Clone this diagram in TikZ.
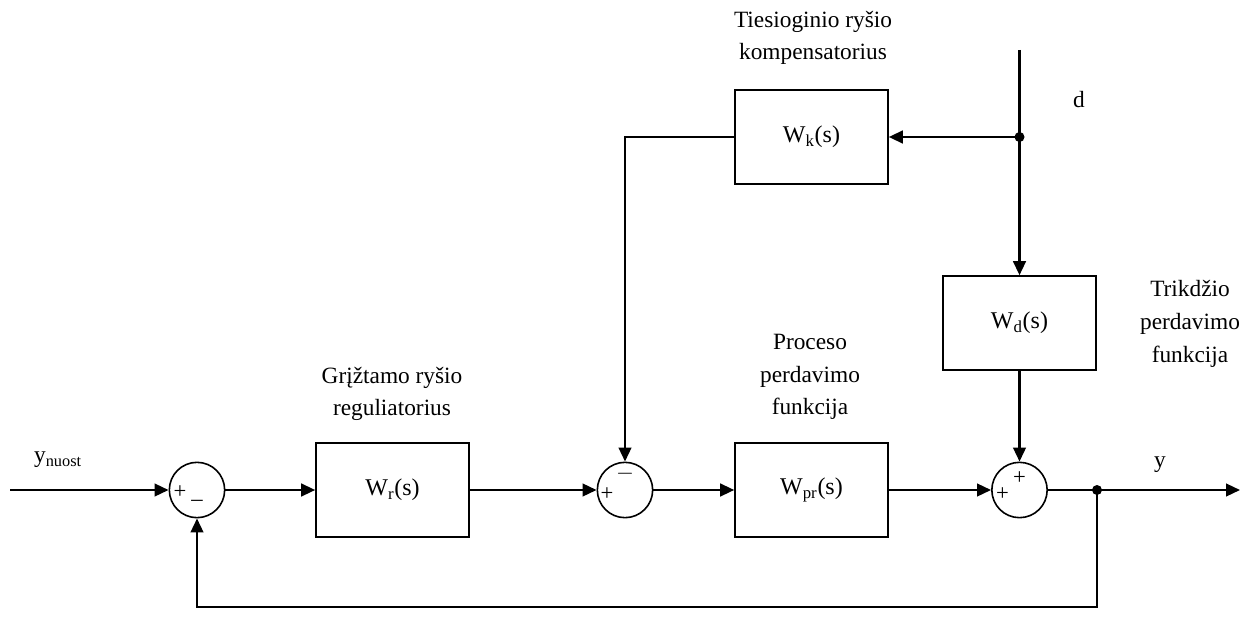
\documentclass[tikz,border=0pt]{standalone}
\usepackage{fontspec}
\setmainfont{Liberation Serif}
\usetikzlibrary{arrows.meta}
\begin{document}
\begin{tikzpicture}[x=0.75pt,y=-0.75pt,
  blk/.style={draw,line width=1.2pt,minimum width=114.75pt,minimum height=70.5pt,inner sep=0pt,font=\fontsize{18}{21}\selectfont},
  sum/.style={draw,circle,line width=1.2pt,minimum size=41.5pt,inner sep=0pt},
  sig/.style={font=\fontsize{17}{17}\selectfont,inner sep=0pt},
  lbl/.style={align=center,font=\fontsize{17.5}{24.5}\selectfont,inner sep=0pt},
  con/.style={line width=1.7pt},
  arr/.style={con,-{Triangle[length=10.5pt,width=9.5pt]}},
  dot/.style={circle,fill,inner sep=0pt,minimum size=7.5pt}]
\useasboundingbox (0,0) rectangle (1248,635);
% summing junctions
\node[sum] (s1) at (197,490) {};
\node[sum] (s2) at (625,490) {};
\node[sum] (s3) at (1019.5,490) {};
% blocks
\node[blk] (wr) at (392.5,490) {W\textsubscript{r}(s)};
\node[blk] (wpr) at (811.5,490) {W\textsubscript{pr}(s)};
\node[blk] (wk) at (811.5,137) {W\textsubscript{k}(s)};
\node[blk] (wd) at (1019.5,323) {W\textsubscript{d}(s)};
% coordinates
\coordinate (in) at (10,490);
\coordinate (out) at (1240,490);
\coordinate (dtop) at (1019.5,50);
\node[dot] (j1) at (1019.5,137) {};
\node[dot] (j2) at (1097,490) {};
\coordinate (fb1) at (1097,607);
\coordinate (fb2) at (197,607);
\coordinate (kc) at (625,137);
% connectors
\draw[arr] (in) -- (s1.west);
\draw[arr] (s1.east) -- (wr.west);
\draw[arr] (wr.east) -- (s2.west);
\draw[arr] (s2.east) -- (wpr.west);
\draw[arr] (wpr.east) -- (s3.west);
\draw[con] (s3.east) -- (j2.center);
\draw[arr] (j2.center) -- (out);
\draw[arr] (j2.center) -- (fb1) -- (fb2) -- (s1.south);
\draw[con] (dtop) -- (j1.center);
\draw[arr] (j1.center) -- (wk.east);
\draw[arr] (j1.center) -- (wd.north);
\draw[arr] (wd.south) -- (s3.north);
\draw[arr] (wk.west) -- (kc) -- (s2.north);
% signs
\node[sig] at ([shift={(-17,2)}]s1.center) {+};
\node[sig] at ([shift={(0,10)}]s1.center) {\_};
\node[sig] at ([shift={(0,-16)}]s2.center) {$-$};
\node[sig] at ([shift={(-18,4)}]s2.center) {+};
\node[sig] at ([shift={(0,-12)}]s3.center) {+};
\node[sig] at ([shift={(-17,4)}]s3.center) {+};
% labels
\node[lbl] (lk) at (813,38) {Tiesioginio ryšio\\kompensatorius};
\node[lbl] (ld) at (1079,100) {d};
\node[lbl] (ltr) at (1190,324) {Trikdžio\\perdavimo\\funkcija};
\node[lbl] (lpr) at (810,377) {Proceso\\perdavimo\\funkcija};
\node[lbl] (lgr) at (392,394) {Grįžtamo ryšio\\reguliatorius};
\node[lbl] (ly0) at (58,460) {y\textsubscript{nuost}};
\node[lbl] (ly) at (1160,465) {y};
\end{tikzpicture}
\end{document}
